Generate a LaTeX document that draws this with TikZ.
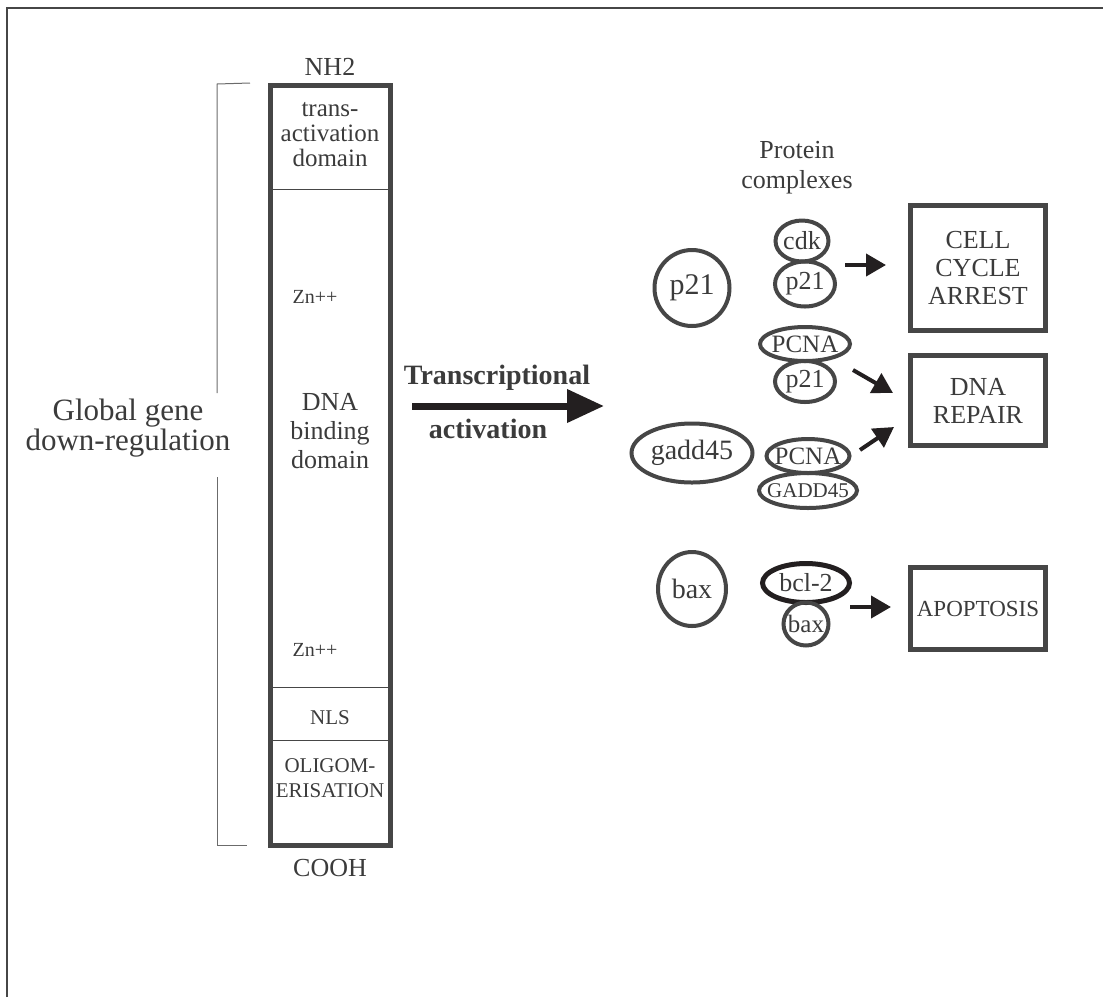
\documentclass[tikz,border=0pt]{standalone}
\usepackage{fontspec}
\setmainfont{Liberation Serif}
\usepackage{tikz}
\usetikzlibrary{positioning,arrows.meta,shapes.geometric}
\definecolor{ink}{HTML}{3B3B3B}
\definecolor{edge}{HTML}{464646}
\definecolor{dark}{HTML}{231F20}
\newcommand{\pname}[1]{\makebox[0pt]{#1}}

\begin{document}
\begin{tikzpicture}[
  x=1pt, y=-1pt,
  txt/.style={text=ink, align=center, inner sep=0pt, font=\fontsize{26}{28}\selectfont},
  small/.style={txt, font=\fontsize{21}{25}\selectfont},
  bld/.style={txt, font=\fontsize{28}{30}\selectfont\bfseries},
  prot/.style={ellipse, draw=edge, line width=4pt, inner sep=0pt, outer sep=0pt, text=ink, font=\fontsize{26}{28}\selectfont},
  outcome/.style={draw=edge, line width=5pt, text=ink, align=center, minimum width=135pt, inner sep=0pt, font=\fontsize{26}{28}\selectfont},
  ar/.style={-{Triangle[length=20pt, width=22pt]}, line width=4pt, dark},
  divider/.style={edge, line width=1pt},
  brace/.style={edge!80, line width=1pt}
]
\useasboundingbox (0,0) rectangle (1103,997);
\draw[edge, line width=2pt] (7,997) -- (7,8) -- (1103,8);

% p53 column
\node[txt] (nh2) at (330,67) {NH2};
\node[draw=edge, line width=5pt, minimum width=120pt, minimum height=760pt, inner sep=0pt] (col) at (330.5,465) {};
\draw[divider] (270.5,189) -- (390.5,189);
\draw[divider] (270.5,687) -- (390.5,687);
\draw[divider] (270.5,740) -- (390.5,740);
\node[txt, font=\fontsize{25}{25}\selectfont] (tad) at (330,135) {trans-\\activation\\domain};
\node[small, font=\fontsize{20}{24}\selectfont] (zn1) at (315,297) {Zn++};
\node[txt, font=\fontsize{26}{29}\selectfont] (dbd) at (330,431) {DNA\\binding\\domain};
\node[small, font=\fontsize{20}{24}\selectfont] (zn2) at (315,650) {Zn++};
\node[small] (nls) at (330,718) {NLS};
\node[small] (olig) at (330,778) {OLIGOM-\\ERISATION};
\node[txt] (cooh) at (330,868) {COOH};

% bracket
\node[txt, font=\fontsize{31}{30}\selectfont] (glob) at (128,428) {Global gene\\down-regulation};
\draw[brace] (250,83) -- (217,84) -- (217,393);
\draw[brace] (217,477) -- (217,845) -- (247,845);

% transcriptional activation
\node[bld] (tlabel) at (497,378) {Transcriptional};
\node[bld] (alabel) at (488,429) {activation};
\coordinate (tstart) at (412,406);
\coordinate (tend) at (604,406);
\draw[-{Triangle[length=37pt, width=32pt]}, line width=7pt, dark] (tstart) -- (tend);

% targets
\node[txt, font=\fontsize{26}{30}\selectfont] (pc) at (797,168) {Protein\\complexes};
\node[prot, minimum width=75pt, minimum height=76pt, font=\fontsize{30}{30}\selectfont] (p21) at (692,288) {\pname{p21}};
\node[prot, minimum width=121pt, minimum height=59pt, font=\fontsize{28}{28}\selectfont] (gadd) at (692,453) {\pname{gadd45}};
\node[prot, minimum width=68pt, minimum height=74pt, font=\fontsize{28}{28}\selectfont] (bax) at (692,589) {\pname{bax}};

% complexes
\node[prot, minimum width=53pt, minimum height=41pt] (cdk) at (802,241) {\pname{cdk}};
\node[prot, minimum width=60pt, minimum height=45pt, below=0pt of cdk, xshift=3pt] (p21a) {\pname{p21}};
\node[prot, minimum width=90pt, minimum height=34pt, font=\fontsize{25}{25}\selectfont] (pcna1) at (805,344) {\pname{PCNA}};
\node[prot, minimum width=60pt, minimum height=41pt, below=0pt of pcna1] (p21b) {\pname{p21}};
\node[prot, minimum width=83pt, minimum height=34pt, font=\fontsize{25}{25}\selectfont] (pcna2) at (808,456) {\pname{PCNA}};
\node[prot, minimum width=98pt, minimum height=35pt, font=\fontsize{21}{21}\selectfont, below=0pt of pcna2] (gadd45c) {\pname{GADD45}};
\node[prot, minimum width=87pt, minimum height=39pt, line width=5pt, draw=dark] (bcl) at (806,583) {\pname{bcl-2}};
\node[prot, minimum width=45pt, minimum height=43pt, font=\fontsize{25}{25}\selectfont, below=0pt of bcl] (baxc) {\pname{bax}};

% outcomes
\node[outcome, minimum height=125pt] (arrest) at (978,268) {CELL\\CYCLE\\ARREST};
\node[outcome, minimum height=90pt] (repair) at (978,400.5) {DNA\\REPAIR};
\node[outcome, minimum height=82pt, font=\fontsize{23}{28}\selectfont] (apop) at (978,608.5) {APOPTOSIS};

\coordinate (c1) at (845,265);
\coordinate (r1) at (886,265);
\coordinate (c2) at (853,370);
\coordinate (r2) at (893,393);
\coordinate (c3) at (860,450);
\coordinate (r3) at (894,427);
\coordinate (c4) at (850,607);
\coordinate (r4) at (891,607);
\draw[ar] (c1) -- (r1);
\draw[ar] (c2) -- (r2);
\draw[ar] (c3) -- (r3);
\draw[ar] (c4) -- (r4);
\end{tikzpicture}
\end{document}
